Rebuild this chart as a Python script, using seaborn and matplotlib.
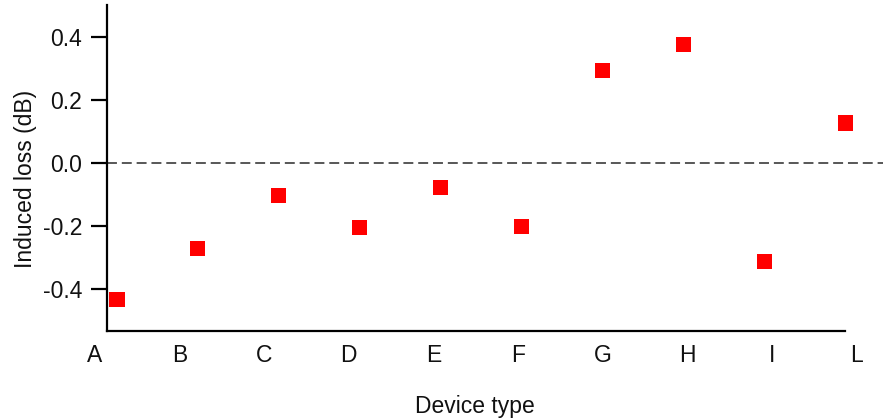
import matplotlib
matplotlib.use("Agg")
import matplotlib.pyplot as plt
import seaborn as sns
import pandas as pd

devices = ["A", "B", "C", "D", "E", "F", "G", "H", "I", "L"]
induced_loss = [-0.433, -0.272, -0.103, -0.206, -0.079, -0.202, 0.292, 0.374, -0.313, 0.126]
y_ticks = [-0.4, -0.2, 0.0, 0.2, 0.4]

sns.set_theme(style="white")
plt.rcParams["font.family"] = ["Liberation Sans", "DejaVu Sans"]

df = pd.DataFrame({"device": devices, "loss": induced_loss})

FS = 16.5
W, H = 887, 420
fig = plt.figure(figsize=(W / 100, H / 100), dpi=100)
ax = fig.add_axes([107 / W, (H - 331) / H, 776 / W, 326 / H])

sns.scatterplot(data=df, x="device", y="loss", marker="s", s=118, color="#ff0000",
                edgecolor="none", linewidth=0, ax=ax, zorder=3, clip_on=False)

ax.axhline(0, color="#2a2a2a", lw=1.1, ls=(0, (6.5, 3.2)), zorder=1)

ax.set_xlim(-0.124, 9.468)
ax.set_ylim(-0.533, 0.5)
ax.set_yticks(y_ticks)
ax.set_yticklabels([f"{v:.1f}" for v in y_ticks])
ax.set_xticks([])

for s in ["top", "right"]:
    ax.spines[s].set_visible(False)
for s in ["left", "bottom"]:
    ax.spines[s].set_color("black")
    ax.spines[s].set_linewidth(1.6)
ax.spines["bottom"].set_bounds(-0.124, 9.0)

ax.tick_params(axis="y", direction="out", length=11.5, width=1.6, color="black",
               labelsize=FS, labelcolor="#111111", pad=6.5, left=True)

ax.set_ylabel("Induced loss (dB)", fontsize=FS, color="#111111")
ax.yaxis.set_label_coords(-0.090, 0.466)
ax.set_xlabel("Device type", fontsize=FS, color="#111111")
ax.xaxis.set_label_coords(0.474, -0.195)

# separate axis carrying the category labels, which are spaced wider than the markers
lab = fig.add_axes([77.8 / W, (H - 331) / H, (873.9 - 77.8) / W, 326 / H])
lab.patch.set_alpha(0)
for s in lab.spines.values():
    s.set_visible(False)
lab.set_xlim(-0.2, 9.2)
lab.set_xticks(range(len(devices)))
lab.set_xticklabels(devices)
lab.set_yticks([])
lab.tick_params(axis="x", length=0, pad=9, labelsize=FS, labelcolor="#111111")

fig.savefig("out.png", dpi=100)
